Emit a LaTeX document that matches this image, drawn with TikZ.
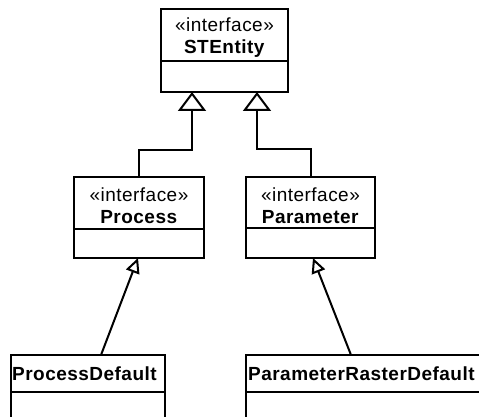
\documentclass[tikz,border=0pt]{standalone}
\usepackage{fontspec}
\setmainfont[LetterSpace=2.5]{Liberation Sans}
\usetikzlibrary{arrows.meta}

\tikzset{
  head/.style={draw, line width=2pt, inner sep=0pt, outer sep=0pt},
  label/.style={inner sep=0pt, align=center, font=\fontsize{19}{22}\selectfont},
  body/.style={draw, line width=2pt, inner sep=0pt, outer sep=0pt},
  realize/.style={line width=2pt,
    -{Triangle[open, length=19pt, width=28pt, line width=2pt]}},
  realizesmall/.style={line width=2pt,
    -{Triangle[open, length=15pt, width=14pt, line width=2pt]}},
}

\begin{document}
\begin{tikzpicture}[x=1pt, y=-1pt]
  \useasboundingbox (0,0) rectangle (479,417);
  \clip (0,0) rectangle (479,417);

  % STEntity interface
  \node[head, minimum width=127pt, minimum height=52pt] (ste) at (224.5,35) {};
  \node[label] (ste-t) at ([yshift=-3pt]ste.center) {«interface»\\\textbf{STEntity}};
  \node[body, minimum width=127pt, minimum height=31pt, anchor=north] (steb) at (ste.south) {};

  % Process interface
  \node[head, minimum width=130pt, minimum height=52pt] (proc) at (139,203) {};
  \node[label] (proc-t) at ([yshift=-3pt]proc.center) {«interface»\\\textbf{Process}};
  \node[body, minimum width=130pt, minimum height=29pt, anchor=north] (procb) at (proc.south) {};

  % Parameter interface
  \node[head, minimum width=129pt, minimum height=51pt] (par) at (310.5,202.5) {};
  \node[label] (par-t) at ([yshift=-3pt]par.center) {«interface»\\\textbf{Parameter}};
  \node[body, minimum width=129pt, minimum height=30pt, anchor=north] (parb) at (par.south) {};

  % Implementing classes
  \node[head, minimum width=154pt, minimum height=37pt, anchor=north west] (pd) at (11,355) {};
  \node[label, anchor=west] (pd-t) at ([xshift=1pt]pd.west) {\textbf{ProcessDefault}};
  \node[body, minimum width=154pt, minimum height=40pt, anchor=north] (pdb) at (pd.south) {};

  \node[head, minimum width=250pt, minimum height=37pt, anchor=north west] (prd) at (246,355) {};
  \node[label, anchor=west] (prd-t) at ([xshift=2pt]prd.west) {\textbf{ParameterRasterDefault}};
  \node[body, minimum width=250pt, minimum height=40pt, anchor=north] (prdb) at (prd.south) {};

  % Attachment points on the STEntity compartment
  \coordinate (stel) at ([xshift=31pt]steb.south west);
  \coordinate (ster) at ([xshift=96pt]steb.south west);

  % Interface inheritance
  \draw[realize] (proc.north) -- ++(0,-27) -| (stel);
  \draw[realize] (par.north) -- ++(0,-28) -| (ster);

  % Realizations
  \draw[realizesmall] ([xshift=90pt]pd.north west) -- ([xshift=64pt]procb.south west);
  \draw[realizesmall] ([xshift=105pt]prd.north west) -- ([xshift=67pt]parb.south west);
\end{tikzpicture}
\end{document}
